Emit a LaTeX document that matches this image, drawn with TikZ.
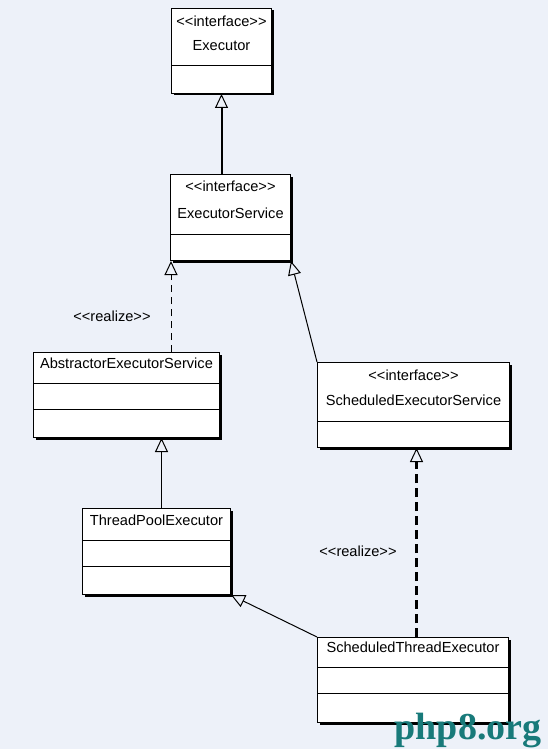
\documentclass[tikz,border=0pt]{standalone}
\usepackage{fontspec}
\setmainfont{Liberation Sans}
\newfontfamily\wmfont{Liberation Serif}
\usetikzlibrary{positioning,arrows.meta,calc,shadows}
\definecolor{bgblue}{RGB}{237,241,249}
\definecolor{wmteal}{RGB}{24,122,122}
\newcommand\stereo[1]{<\kern0pt<#1>\kern0pt>}

\begin{document}
\begin{tikzpicture}[
  x=1pt, y=-1pt,
  font=\fontsize{14.6}{16}\selectfont,
  cls/.style={draw, fill=white, line width=1pt, anchor=north west, inner sep=0pt,
              drop shadow={shadow xshift=2pt, shadow yshift=-2pt, fill=black, opacity=1}},
  lbl/.style={inner sep=0pt},
  sep/.style={line width=1pt},
  gen/.style={-{Triangle[open, length=14pt, width=13pt, line width=1pt]}, line width=1pt},
  wm/.style={inner sep=0pt, anchor=base, text=wmteal,
             font=\wmfont\bfseries\fontsize{38}{38}\selectfont},
]
\fill[bgblue] (0,0) rectangle (548,749);
\useasboundingbox (0,0) rectangle (548,749);

% classes
\node[cls, minimum width=100, minimum height=85] (exec) at (171,8) {};
\node[cls, minimum width=120, minimum height=86] (es)   at (170,174) {};
\node[cls, minimum width=186, minimum height=85] (aes)  at (33,352) {};
\node[cls, minimum width=192, minimum height=85] (ses)  at (317,362) {};
\node[cls, minimum width=148, minimum height=86] (tpe)  at (82,508) {};
\node[cls, minimum width=191, minimum height=85] (ste)  at (317,637) {};

% compartments
\draw[sep] ($(exec.north west)+(0,58)$) -- ($(exec.north east)+(0,58)$);
\draw[sep] ($(es.north west)+(0,60)$) -- ($(es.north east)+(0,60)$);
\draw[sep] ($(aes.north west)+(0,31)$) -- ($(aes.north east)+(0,31)$);
\draw[sep] ($(aes.north west)+(0,57)$) -- ($(aes.north east)+(0,57)$);
\draw[sep] ($(ses.north west)+(0,59)$) -- ($(ses.north east)+(0,59)$);
\draw[sep] ($(tpe.north west)+(0,32)$) -- ($(tpe.north east)+(0,32)$);
\draw[sep] ($(tpe.north west)+(0,58)$) -- ($(tpe.north east)+(0,58)$);
\draw[sep] ($(ste.north west)+(0,30)$) -- ($(ste.north east)+(0,30)$);
\draw[sep] ($(ste.north west)+(0,56)$) -- ($(ste.north east)+(0,56)$);

% names
\node[lbl] (exec-st) at ($(exec.north)+(0,13)$) {\stereo{interface}};
\node[lbl] (exec-nm) at ($(exec.north)+(0,38)$) {Executor};
\node[lbl] (es-st)   at ($(es.north)+(0,12)$) {\stereo{interface}};
\node[lbl] (es-nm)   at ($(es.north)+(0,39)$) {ExecutorService};
\node[lbl] (aes-nm)  at ($(aes.north)+(0,11)$) {AbstractorExecutorService};
\node[lbl] (ses-st)  at ($(ses.north)+(0,13)$) {\stereo{interface}};
\node[lbl] (ses-nm)  at ($(ses.north)+(0,38)$) {ScheduledExecutorService};
\node[lbl] (tpe-nm)  at ($(tpe.north)+(0,12)$) {ThreadPoolExecutor};
\node[lbl] (ste-nm)  at ($(ste.north)+(0,10)$) {ScheduledThreadExecutor};

% relations
\coordinate (es-l)  at ($(es.south west)+(1,0)$);
\coordinate (aes-b) at ($(aes.south)+(35,0)$);
\coordinate (ses-b) at ($(ses.south)+(3,0)$);
\draw[gen, line width=2pt] (exec.south |- es.north) -- (exec.south);
\draw[gen, dash pattern=on 7pt off 5pt] (es-l |- aes.north) -- (es-l);
\draw[gen] (ses.north west) -- (es.south east);
\draw[gen] (aes-b |- tpe.north) -- (aes-b);
\draw[gen, line width=2.5pt, dash pattern=on 9pt off 5pt] (ses-b |- ste.north) -- (ses-b);
\draw[gen] (ste.north west) -- (tpe.south east);

\node[lbl] (rl1) at (112,316) {\stereo{realize}};
\node[lbl] (rl2) at (358,551) {\stereo{realize}};

\node[wm] (wm) at (468,739) {php8.org};
\end{tikzpicture}
\end{document}
